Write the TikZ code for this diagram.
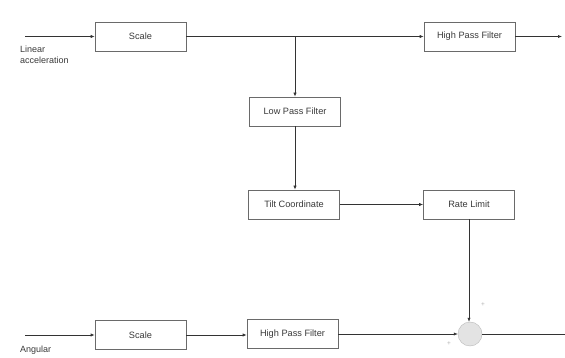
\documentclass[tikz,border=0pt]{standalone}
\usepackage{fontspec}
\setmainfont{Liberation Sans}
\usetikzlibrary{arrows.meta}
\definecolor{linec}{HTML}{333333}
\definecolor{boxc}{HTML}{6A6A6A}
\definecolor{textc}{HTML}{3A3A3A}
\begin{document}
\begin{tikzpicture}[x=1pt,y=-1pt,
  block/.style={draw=boxc,line width=0.65pt,minimum width=91pt,minimum height=29pt,
    inner sep=0pt,font=\fontsize{9.2}{11}\selectfont,text=textc},
  sumnode/.style={circle,draw=gray!55,fill=gray!22,minimum size=24pt,inner sep=0pt},
  conn/.style={draw=linec,line width=0.65pt,-{Latex[length=4pt,width=3.2pt]}},
  plain/.style={draw=linec,line width=0.65pt},
  lbl/.style={font=\fontsize{9}{11}\selectfont,text=textc,inner sep=0pt,align=left},
  sign/.style={font=\fontsize{6.5}{7}\selectfont,text=gray!60,inner sep=0pt}]
\useasboundingbox[fill=white] (0,0) rectangle (565,358);

% linear acceleration path
\node[block] (scaleA) at (140.5,36.5) {Scale};
\node[block] (hpfA) at (469.5,36.5) {High Pass Filter};
\node[block] (lpf) at (295,111.5) {Low Pass Filter};
\node[block] (tilt) at (294,204.5) {Tilt Coordinate};
\node[block] (rate) at (469,204.5) {Rate Limit};

% angular rate path
\node[block] (scaleB) at (140.5,335) {Scale};
\node[block] (hpfB) at (292.5,334) {High Pass Filter};
\node[sumnode] (sum) at (470,334) {};

\coordinate (inA) at (25,36.5);
\coordinate (outA) at (562,36.5);
\coordinate (inB) at (25,335);
\coordinate (outB) at (565,334);
\coordinate (tap) at (295,36.5);

\node[lbl,anchor=north west] (linlbl) at (20,46) {Linear\\acceleration};
\node[lbl,anchor=north west] (anglbl) at (20,346) {Angular};
\node[sign] (plusT) at (483,305) {+};
\node[sign] (plusL) at (449,344) {+};

\draw[conn] (inA) -- (scaleA);
\draw[conn] (scaleA) -- (hpfA);
\draw[conn] (hpfA) -- (outA);
\draw[conn] (tap) -- (lpf);
\draw[conn] (lpf.south) -- (lpf.south |- tilt.north);
\draw[conn] (tilt) -- (rate);
\draw[conn] (rate.south) -- (rate.south |- sum.north);
\draw[conn] (inB) -- (scaleB);
\draw[conn] (scaleB.east) -- (scaleB.east -| hpfB.west);
\draw[conn] (hpfB) -- (sum);
\draw[plain] (sum) -- (outB);
\end{tikzpicture}
\end{document}
